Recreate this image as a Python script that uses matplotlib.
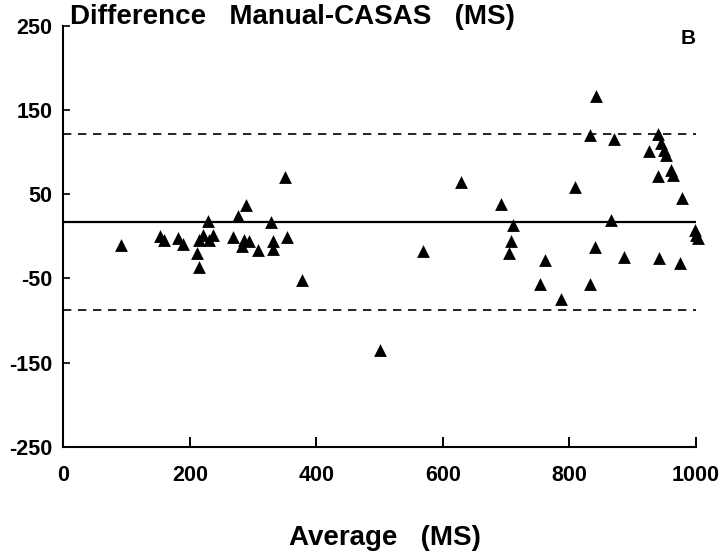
import numpy as np
import matplotlib
matplotlib.use("Agg")
import matplotlib.pyplot as plt

# Bland-Altman data: average (ms) vs difference manual - CASAS (ms)
avg_ms = [92, 153, 159, 181, 190, 212, 214, 214, 221, 229, 230, 237, 268, 276, 289,
          285, 283, 294, 307, 329, 332, 332, 350, 353, 378,
          501, 569, 629, 692, 711, 707, 705, 754, 761, 786, 808, 840, 833, 865,
          842, 833, 870, 940, 925, 944, 949, 953, 940, 961, 964, 978,
          998, 1000, 1003, 886, 941, 974]
diff_ms = [-10, 0, -4, -2, -9, -20, -36, -4, 1, 18, -4, 2, -1, 24, 37,
           -4, -12, -6, -16, 17, -6, -15, 71, -1, -52,
           -135, -18, 65, 38, 14, -5, -20, -57, -28, -75, 59, -13, -57, 20,
           167, 121, 116, 122, 101, 111, 103, 97, 72, 79, 73, 45,
           8, 2, -2, -24, -26, -32]

mean_diff = 17
upper_loa = 122
lower_loa = -88

x_ticks = [0, 200, 400, 600, 800, 1000]
y_ticks = [-250, -150, -50, 50, 150, 250]

plt.rcParams['font.family'] = ['Liberation Sans', 'DejaVu Sans']

fig = plt.figure(figsize=(7.24, 5.54), dpi=100)
ax = fig.add_axes([0.0874, 0.1937, 0.8739, 0.7594])

ax.scatter(avg_ms, diff_ms, marker='^', s=85, color='black', linewidths=0, zorder=3, clip_on=False)

ax.plot([0, 1000], [mean_diff, mean_diff], color='black', linewidth=1.6)
ax.plot([0, 1000], [upper_loa, upper_loa], color='black', linewidth=1.2, linestyle=(0, (5, 4)))
ax.plot([0, 1000], [lower_loa, lower_loa], color='black', linewidth=1.2, linestyle=(0, (5, 4)))

ax.set_xlim(0, 1000)
ax.set_ylim(-250, 250)
ax.set_xticks(x_ticks)
ax.set_yticks(y_ticks)
ax.set_xticklabels([str(t) for t in x_ticks], fontsize=15.5, fontweight='bold')
ax.set_yticklabels([str(t) for t in y_ticks], fontsize=15.5, fontweight='bold')
ax.tick_params(axis='x', direction='in', length=7, width=1.4, pad=13)
ax.tick_params(axis='y', direction='in', length=5, width=1.2, pad=8)

for side in ['top', 'right']:
    ax.spines[side].set_visible(False)
for side in ['left', 'bottom']:
    ax.spines[side].set_linewidth(1.5)

fig.text(70 / 724, 1 - 17 / 554, "Difference   Manual-CASAS   (MS)", fontsize=20,
         fontweight='bold', ha='left', va='center')
fig.text(688 / 724, 1 - 38 / 554, "B", fontsize=15, fontweight='bold', ha='center', va='center')
fig.text(385 / 724, 1 - 538 / 554, "Average   (MS)", fontsize=20, fontweight='bold',
         ha='center', va='center')

plt.savefig("out.png", dpi=100)
